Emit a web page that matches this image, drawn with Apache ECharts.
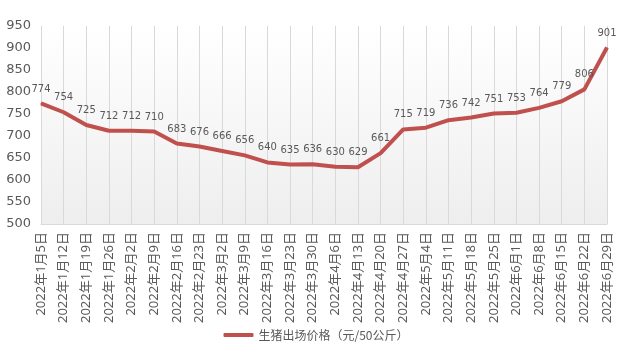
<!DOCTYPE html>
<html><head><meta charset="utf-8">
<script src="https://cdn.jsdelivr.net/npm/echarts@6/dist/echarts.min.js"></script>
<style>html,body{margin:0;padding:0;background:#fff}#c{width:632px;height:352px}</style>
</head><body><div id="c"></div>
<script>
const categories = ["2022年1月5日","2022年1月12日","2022年1月19日","2022年1月26日","2022年2月2日","2022年2月9日","2022年2月16日","2022年2月23日","2022年3月2日","2022年3月9日","2022年3月16日","2022年3月23日","2022年3月30日","2022年4月6日","2022年4月13日","2022年4月20日","2022年4月27日","2022年5月4日","2022年5月11日","2022年5月18日","2022年5月25日","2022年6月1日","2022年6月8日","2022年6月15日","2022年6月22日","2022年6月29日"];
const prices = [774,754,725,712,712,710,683,676,666,656,640,635,636,630,629,661,715,719,736,742,751,753,764,779,806,901];
const seriesName = "生猪出场价格（元/50公斤）";
const yMin = 500, yMax = 950, yStep = 50;

const chart = echarts.init(document.getElementById('c'), null, {renderer:'canvas'});
chart.setOption({
  animation:false,
  textStyle:{fontFamily:'DejaVu Sans, Noto Sans CJK SC, sans-serif'},
  grid:{left:41,right:25,top:26,bottom:128,show:true,borderWidth:0,
    backgroundColor:new echarts.graphic.LinearGradient(0,0,0,1,[{offset:0,color:'#ffffff'},{offset:1,color:'#eeeeee'}])},
  legend:{bottom:6,left:'center',itemWidth:30,itemHeight:4,
    icon:'roundRect',
    textStyle:{color:'#595959',fontSize:12,fontFamily:'Noto Sans CJK SC, sans-serif'},
    data:[seriesName]},
  xAxis:{type:'category',data:categories,boundaryGap:false,
    axisLine:{lineStyle:{color:'#d9d9d9'}},axisTick:{show:false},
    splitLine:{show:true,lineStyle:{color:'#d9d9d9',width:1}},
    axisLabel:{rotate:90,interval:0,color:'#595959',fontSize:13,margin:8,fontFamily:'Noto Sans, Noto Sans CJK SC, sans-serif'}},
  yAxis:{type:'value',min:yMin,max:yMax,interval:yStep,
    axisLine:{show:false},axisTick:{show:false},splitLine:{show:false},
    axisLabel:{color:'#595959',fontSize:13,margin:10}},
  series:[{name:seriesName,type:'line',data:prices,showSymbol:true,symbol:'circle',symbolSize:1,
    lineStyle:{color:'#c0504d',width:4},itemStyle:{color:'#c0504d'},
    label:{show:true,position:'top',distance:9,color:'#595959',fontSize:10}}]
});
</script></body></html>
